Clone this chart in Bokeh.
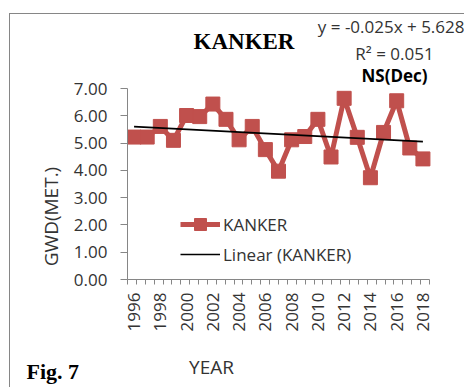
import math
from bokeh.plotting import figure
from bokeh.models import (Range1d, FixedTicker, NumeralTickFormatter, Label,
                          Legend, LegendItem)
from bokeh.embed import file_html
from bokeh.resources import INLINE

# ---- data ----
years = list(range(1996, 2019))
gwd = [5.22, 5.22, 5.61, 5.10, 6.01, 5.97, 6.43, 5.87, 5.12, 5.61, 4.76, 3.97,
       5.12, 5.24, 5.87, 4.49, 6.64, 5.21, 3.73, 5.39, 6.55, 4.82, 4.42]
trend_slope = -0.025
trend_intercept = 5.628
y_ticks = [0, 1, 2, 3, 4, 5, 6, 7]
y_max = 7
x_label_years = years[::2]
series_name = "KANKER"
trend_name = "Linear (KANKER)"
equation_text = "y = -0.025x + 5.628"
r2_text = "R\u00b2 = 0.051"
sig_text = "NS(Dec)"

idx = list(range(1, len(years) + 1))
trend = [trend_slope * i + trend_intercept for i in idx]

RED = "#C0504D"
AXIS = "#868686"
TXT = "#333333"
SANS = "Open Sans"
SERIF = "Liberation Serif"

# layout (page pixels)
OX, OY = 10, 16             # canvas origin on the page
W, H = 455, 374             # canvas size
PLOT_L, PLOT_R, PLOT_T, PLOT_B = 127, 429, 90, 281   # axes box on the page
frame_w = (OX + W) - PLOT_L
frame_h = PLOT_B - OY
x0 = 0.5
x_span_axes = len(years)
x_end = x0 + x_span_axes * frame_w / (PLOT_R - PLOT_L)
y_end = y_max * frame_h / (PLOT_B - PLOT_T)

p = figure(width=W, height=H, output_backend="svg", toolbar_location=None,
           x_range=Range1d(x0, x_end), y_range=Range1d(0, y_end),
           min_border_left=PLOT_L - OX, min_border_right=0, min_border_top=0,
           min_border_bottom=(OY + H) - PLOT_B)
p.margin = (13, 0, 0, 9)
p.styles = {"border-left": "1px solid #868686", "border-top": "1px solid #868686"}
p.outline_line_color = None
p.grid.visible = False
p.background_fill_color = "white"
p.border_fill_color = "white"

# y axis
ya = p.yaxis[0]
ya.bounds = (0, y_max)
ya.ticker = FixedTicker(ticks=y_ticks)
ya.formatter = NumeralTickFormatter(format="0.00")
ya.axis_line_color = AXIS
ya.major_tick_line_color = AXIS
ya.major_tick_out = 7
ya.major_tick_in = 0
ya.minor_tick_line_color = None
ya.major_label_text_font = SANS
ya.major_label_text_font_size = "17px"
ya.major_label_text_color = TXT
ya.major_label_standoff = 13

# x axis
n_tick_intervals = 34
xa = p.xaxis[0]
xa.bounds = (x0, x0 + x_span_axes)
x_major = [years.index(y) + 1 for y in x_label_years]
minor = [x0 + k * x_span_axes / n_tick_intervals for k in range(n_tick_intervals + 1)]
xa.ticker = FixedTicker(ticks=x_major, minor_ticks=minor)
xa.major_label_overrides = {i: str(y) for i, y in zip(x_major, x_label_years)}
xa.major_label_orientation = math.pi / 2
xa.axis_line_color = AXIS
xa.major_tick_line_color = None
xa.major_tick_out = 0
xa.major_tick_in = 0
xa.minor_tick_line_color = AXIS
xa.minor_tick_out = 5
xa.minor_tick_in = 0
xa.major_label_text_font = SANS
xa.major_label_text_font_size = "17px"
xa.major_label_text_color = TXT
xa.major_label_standoff = 8

# series
r_line = p.line(idx, gwd, line_color=RED, line_width=5)
r_mark = p.scatter(idx, gwd, marker="square", size=14, fill_color=RED,
                   line_color=RED)
r_trend = p.line([idx[0], idx[-1]], [trend[0], trend[-1]], line_color="black",
                 line_width=1.6)

legend = Legend(items=[LegendItem(label=series_name, renderers=[r_line, r_mark]),
                       LegendItem(label=trend_name, renderers=[r_trend])],
                location=(53, 10), glyph_width=40, glyph_height=30,
                label_height=30, spacing=0, padding=0, margin=0,
                label_standoff=3, background_fill_alpha=0,
                border_line_color=None, label_text_font=SANS,
                label_text_font_size="17px", label_text_color=TXT)
p.add_layout(legend, "center")


def lab(side, text, sx, sy, size, font=SANS, bold=False, align="center",
        angle=0, color=TXT, baseline="alphabetic"):
    p.add_layout(Label(x=sx, y=sy, x_units="screen", y_units="screen",
                       text=text, text_font=font, text_font_size=size,
                       text_font_style="bold" if bold else "normal",
                       text_align=align, text_baseline=baseline, angle=angle,
                       text_color=color), side)

# inside the (enlarged) frame: sx = page_x - 127, sy = 281 - page_y
lab("center", series_name, 243.5 - PLOT_L, PLOT_B - 43, "23px", font=SERIF,
    bold=True, color="black")
lab("center", equation_text, 464 - PLOT_L, PLOT_B - 28, "17px", align="right")
lab("center", r2_text, 394 - PLOT_L, PLOT_B - 55, "17px")
lab("center", sig_text, 394 - PLOT_L, PLOT_B - 77, "17px", bold=True, color="black")
# side panels (offsets found empirically)
lab("left", "GWD(MET.)", 6, 63, "19px", angle=math.pi / 2, baseline="middle")
lab("below", "YEAR", 84, -6, "19px")
lab("below", "Fig. 7", -101, 14, "22px", font=SERIF, bold=True,
    align="left", color="black")

open("out.html", "w").write(file_html(p, INLINE))
